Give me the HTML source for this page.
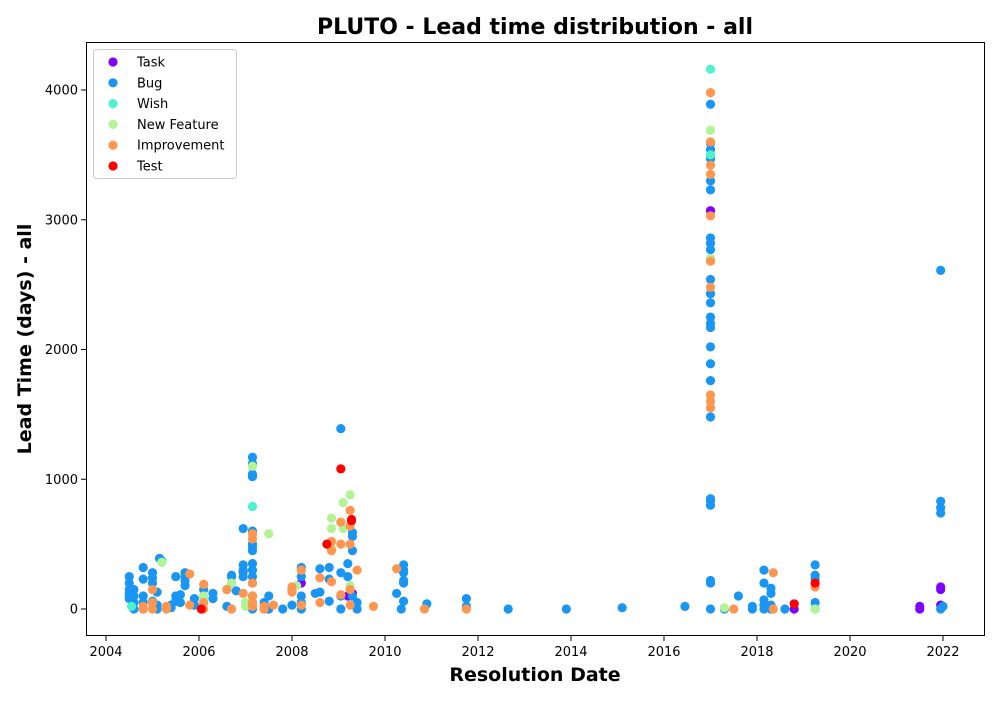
<!DOCTYPE html>
<html><head><meta charset="utf-8">
<style>
body{margin:0;background:#fff;}
svg text{font-family:"DejaVu Sans","Liberation Sans",sans-serif;}
</style></head>
<body>
<svg id="chart" width="1000" height="700">
<rect x="0" y="0" width="1000" height="700" fill="#fff"/>
<text x="535" y="34" text-anchor="middle" font-size="22" font-weight="bold">PLUTO - Lead time distribution - all</text>
<text x="535" y="681" text-anchor="middle" font-size="19" font-weight="bold">Resolution Date</text>
<text transform="translate(31,339) rotate(-90)" text-anchor="middle" font-size="19" font-weight="bold">Lead Time (days) - all</text>
<g id="ticks"></g>
<g id="marks"></g>
<rect x="86.5" y="42.5" width="898" height="593" fill="none" stroke="#000" stroke-width="1"/>
<g id="legend"></g>
</svg>
<script>
const xTicks=[2004,2006,2008,2010,2012,2014,2016,2018,2020,2022];
const yTicks=[0,1000,2000,3000,4000];
const seriesNames=["Task","Bug","Wish","New Feature","Improvement","Test"];
const seriesColors=["#8000ff","#1996f3","#4df3ce","#b2f396","#ff964f","#ff0000"];
const taskData=[[2006.95,290],[2008.2,200],[2009.2,100],[2009.3,120],[2017.0,3070],[2021.5,20],[2021.5,0],[2021.95,170],[2021.95,150],[2021.95,30],[2018.8,0]];
const bugData=[[2004.5,250],[2004.5,200],[2004.5,150],[2004.5,100],[2004.5,80],[2004.5,120],[2004.6,150],[2004.6,100],[2004.6,50],[2004.6,0],[2004.8,320],[2004.8,230],[2004.8,100],[2004.8,50],[2004.8,0],[2005.0,280],[2005.0,240],[2005.0,200],[2005.0,60],[2005.1,130],[2005.1,30],[2005.1,0],[2005.15,390],[2005.2,370],[2005.4,30],[2005.4,10],[2005.5,250],[2005.5,100],[2005.5,60],[2005.6,110],[2005.6,50],[2005.7,280],[2005.7,250],[2005.7,220],[2005.7,180],[2005.9,80],[2005.9,30],[2006.1,150],[2006.1,50],[2006.3,120],[2006.3,80],[2006.6,150],[2006.6,20],[2006.7,260],[2006.7,250],[2006.7,200],[2006.8,140],[2006.95,620],[2006.95,340],[2006.95,300],[2006.95,250],[2007.15,1170],[2007.15,1120],[2007.15,1040],[2007.15,1020],[2007.15,600],[2007.15,500],[2007.15,480],[2007.15,450],[2007.15,350],[2007.15,300],[2007.15,250],[2007.15,200],[2007.15,100],[2007.15,50],[2007.15,0],[2007.4,50],[2007.4,0],[2007.5,100],[2007.5,0],[2007.8,0],[2008.0,150],[2008.0,30],[2008.2,320],[2008.2,250],[2008.2,100],[2008.2,50],[2008.2,0],[2008.5,120],[2008.6,310],[2008.6,130],[2008.8,320],[2008.8,230],[2008.8,60],[2009.05,1390],[2009.05,280],[2009.05,100],[2009.05,0],[2009.2,350],[2009.2,250],[2009.3,590],[2009.3,560],[2009.3,450],[2009.3,100],[2009.4,50],[2009.4,0],[2010.25,120],[2010.4,340],[2010.4,300],[2010.4,280],[2010.4,220],[2010.4,200],[2010.4,60],[2010.35,0],[2010.9,40],[2011.75,80],[2011.75,20],[2012.65,0],[2013.9,0],[2015.1,10],[2016.45,20],[2017.0,3890],[2017.0,3590],[2017.0,3540],[2017.0,3470],[2017.0,3300],[2017.0,3230],[2017.0,2860],[2017.0,2820],[2017.0,2770],[2017.0,2540],[2017.0,2430],[2017.0,2360],[2017.0,2250],[2017.0,2200],[2017.0,2170],[2017.0,2020],[2017.0,1890],[2017.0,1760],[2017.0,1480],[2017.0,850],[2017.0,830],[2017.0,800],[2017.0,220],[2017.0,200],[2017.0,0],[2017.3,0],[2017.6,100],[2017.9,20],[2017.9,0],[2018.15,300],[2018.15,200],[2018.15,70],[2018.15,30],[2018.15,0],[2018.3,160],[2018.3,120],[2018.3,30],[2018.3,0],[2018.6,0],[2019.25,340],[2019.25,260],[2019.25,230],[2019.25,50],[2019.25,0],[2021.95,2610],[2021.95,830],[2021.95,780],[2021.95,740],[2021.95,0],[2022.0,20]];
const wishData=[[2004.55,20],[2005.2,360],[2007.15,790],[2017.0,4160],[2017.0,3500],[2006.1,90]];
const featureData=[[2005.2,360],[2006.7,200],[2007.0,50],[2007.0,20],[2007.15,1100],[2007.5,580],[2008.1,180],[2008.85,700],[2008.85,620],[2008.85,470],[2009.1,820],[2009.1,620],[2009.25,880],[2009.25,180],[2017.0,3690],[2017.0,2700],[2017.3,10],[2019.25,0],[2006.1,100]];
const improvementData=[[2004.8,20],[2004.8,0],[2005.0,150],[2005.0,50],[2005.0,0],[2005.3,20],[2005.3,0],[2005.8,270],[2005.8,30],[2006.1,190],[2006.1,50],[2006.1,0],[2006.6,150],[2006.7,0],[2006.95,120],[2007.15,580],[2007.15,540],[2007.15,200],[2007.15,100],[2007.15,50],[2007.15,20],[2007.4,20],[2007.4,0],[2007.6,30],[2008.0,170],[2008.0,130],[2008.2,300],[2008.2,30],[2008.6,240],[2008.6,50],[2008.85,520],[2008.85,450],[2008.85,210],[2009.05,670],[2009.05,500],[2009.05,110],[2009.25,760],[2009.25,640],[2009.25,500],[2009.25,150],[2009.25,30],[2009.4,300],[2009.75,20],[2010.25,310],[2010.85,0],[2011.75,0],[2017.0,3980],[2017.0,3600],[2017.0,3420],[2017.0,3350],[2017.0,3030],[2017.0,2680],[2017.0,2480],[2017.0,1650],[2017.0,1600],[2017.0,1550],[2017.5,0],[2018.35,280],[2018.35,0],[2019.25,170]];
const testData=[[2006.05,0],[2008.75,500],[2009.05,1080],[2009.28,690],[2009.28,680],[2018.8,40],[2019.25,200]];
const allSeries=[taskData,bugData,wishData,featureData,improvementData,testData];

const NS="http://www.w3.org/2000/svg";
function xs(v){return 106+(v-2004)*46.5;}
function ys(v){return 609-v*0.12975;}
const ticks=document.getElementById('ticks');
xTicks.forEach(t=>{
  const l=document.createElementNS(NS,'line');
  l.setAttribute('x1',xs(t));l.setAttribute('x2',xs(t));l.setAttribute('y1',636);l.setAttribute('y2',641);l.setAttribute('stroke','#000');
  
  
  ticks.appendChild(l);
  const tx=document.createElementNS(NS,'text');
  tx.setAttribute('x',xs(t));tx.setAttribute('y',656);tx.setAttribute('text-anchor','middle');tx.setAttribute('font-size','13');
  tx.textContent=t;
  
  
  ticks.appendChild(tx);
});
yTicks.forEach(t=>{
  const l=document.createElementNS(NS,'line');
  l.setAttribute('x1',81);l.setAttribute('x2',86);l.setAttribute('y1',ys(t));l.setAttribute('y2',ys(t));l.setAttribute('stroke','#000');
  
  
  ticks.appendChild(l);
  const tx=document.createElementNS(NS,'text');
  tx.setAttribute('x',78);tx.setAttribute('y',ys(t)+4.5);tx.setAttribute('text-anchor','end');tx.setAttribute('font-size','13');
  tx.textContent=t;
  
  
  ticks.appendChild(tx);
});
const marks=document.getElementById('marks');
allSeries.forEach((s,i)=>{
  s.forEach(p=>{
    const c=document.createElementNS(NS,'circle');
    c.setAttribute('cx',xs(p[0]));c.setAttribute('cy',ys(p[1]));c.setAttribute('r',4.6);c.setAttribute('fill',seriesColors[i]);
    
    
    marks.appendChild(c);
  });
});
const lg=document.getElementById('legend');
const box=document.createElementNS(NS,'rect');
box.setAttribute('x',93.5);box.setAttribute('y',49.5);box.setAttribute('width',143);box.setAttribute('height',129);box.setAttribute('rx',3);
box.setAttribute('fill','#fff');box.setAttribute('fill-opacity','0.8');box.setAttribute('stroke','#ccc');


lg.appendChild(box);
seriesNames.forEach((n,i)=>{
  const y=62+i*20.8;
  const c=document.createElementNS(NS,'circle');
  c.setAttribute('cx',113);c.setAttribute('cy',y);c.setAttribute('r',4.6);c.setAttribute('fill',seriesColors[i]);
  
  
  lg.appendChild(c);
  const t=document.createElementNS(NS,'text');
  t.setAttribute('x',137);t.setAttribute('y',y+4.5);t.setAttribute('font-size','13');
  t.textContent=n;
  
  
  lg.appendChild(t);
});
</script>
</body></html>
